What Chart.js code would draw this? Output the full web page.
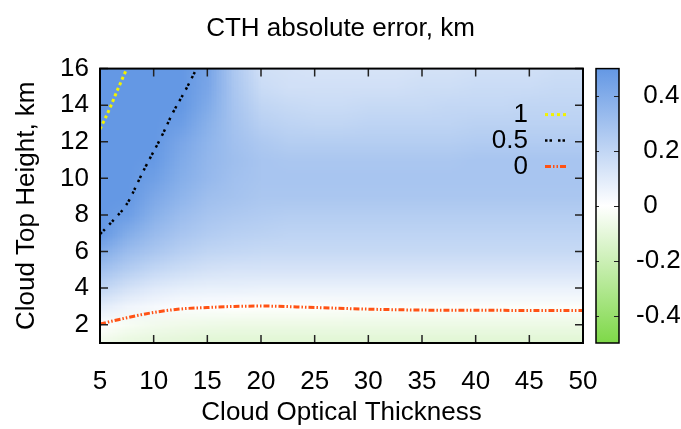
<!DOCTYPE html>
<html>
<head>
<meta charset="utf-8">
<script src="https://cdn.jsdelivr.net/npm/chart.js@4.4.1/dist/chart.umd.min.js"></script>
<style>
  html, body { margin: 0; padding: 0; background: #fff; }
  #wrap { width: 681px; height: 429px; }
</style>
</head>
<body>
<div id="wrap"><canvas id="cth" width="681" height="429"></canvas></div>
<script>
// grid nodes (cloud optical thickness, cloud top height in km)
const cotGrid = [5, 7.5, 10, 12.5, 15, 17.5, 20, 22.5, 25, 27.5, 30, 32.5, 35, 37.5, 40, 42.5, 45, 47.5, 50];
const cthGrid = [1, 2, 3, 4, 5, 6, 7, 8, 9, 10, 11, 12, 13, 14, 15, 16];

// CTH absolute error (km), one row per height
const err1  = [-0.06, -0.09, -0.1, -0.11, -0.12, -0.12, -0.12, -0.12, -0.12, -0.12, -0.12, -0.12, -0.12, -0.12, -0.12, -0.12, -0.12, -0.12, -0.12];
const err2  = [0, -0.03, -0.05, -0.06, -0.065, -0.07, -0.07, -0.07, -0.07, -0.07, -0.07, -0.07, -0.07, -0.07, -0.07, -0.07, -0.07, -0.07, -0.07];
const err3  = [0.09, 0.05, 0.03, 0.01, 0.005, 0, -0.005, -0.005, -0.005, -0.008, -0.01, -0.01, -0.01, -0.01, -0.01, -0.01, -0.01, -0.01, -0.01];
const err4  = [0.2, 0.14, 0.1, 0.08, 0.07, 0.07, 0.065, 0.065, 0.065, 0.065, 0.065, 0.065, 0.065, 0.065, 0.065, 0.065, 0.065, 0.065, 0.065];
const err5  = [0.3, 0.24, 0.19, 0.16, 0.14, 0.13, 0.13, 0.13, 0.13, 0.13, 0.13, 0.13, 0.13, 0.13, 0.13, 0.13, 0.13, 0.13, 0.13];
const err6  = [0.4, 0.32, 0.27, 0.23, 0.2, 0.19, 0.18, 0.18, 0.18, 0.18, 0.18, 0.18, 0.18, 0.18, 0.18, 0.18, 0.18, 0.18, 0.18];
const err7  = [0.5, 0.4, 0.33, 0.28, 0.25, 0.23, 0.22, 0.21, 0.21, 0.21, 0.21, 0.21, 0.21, 0.21, 0.21, 0.21, 0.21, 0.21, 0.21];
const err8  = [0.6, 0.47, 0.38, 0.32, 0.28, 0.26, 0.25, 0.24, 0.24, 0.24, 0.24, 0.24, 0.24, 0.24, 0.24, 0.24, 0.24, 0.24, 0.24];
const err9  = [0.68, 0.52, 0.42, 0.36, 0.31, 0.29, 0.27, 0.27, 0.27, 0.27, 0.27, 0.27, 0.27, 0.27, 0.27, 0.27, 0.27, 0.27, 0.27];
const err10 = [0.76, 0.58, 0.46, 0.39, 0.34, 0.3, 0.28, 0.28, 0.28, 0.28, 0.28, 0.28, 0.28, 0.28, 0.28, 0.28, 0.28, 0.28, 0.28];
const err11 = [0.82, 0.64, 0.49, 0.41, 0.35, 0.31, 0.28, 0.27, 0.27, 0.27, 0.27, 0.27, 0.27, 0.27, 0.28, 0.28, 0.28, 0.28, 0.28];
const err12 = [0.88, 0.7, 0.54, 0.43, 0.36, 0.3, 0.26, 0.24, 0.24, 0.24, 0.24, 0.24, 0.24, 0.24, 0.25, 0.25, 0.25, 0.25, 0.25];
const err13 = [0.92, 0.76, 0.6, 0.47, 0.38, 0.29, 0.23, 0.21, 0.2, 0.2, 0.21, 0.21, 0.21, 0.21, 0.22, 0.22, 0.22, 0.22, 0.22];
const err14 = [0.95, 0.82, 0.66, 0.52, 0.41, 0.28, 0.2, 0.18, 0.17, 0.17, 0.18, 0.18, 0.18, 0.19, 0.19, 0.19, 0.2, 0.2, 0.2];
const err15 = [1.0, 0.88, 0.72, 0.57, 0.43, 0.27, 0.17, 0.15, 0.15, 0.15, 0.15, 0.15, 0.16, 0.16, 0.17, 0.17, 0.17, 0.18, 0.18];
const err16 = [1.05, 0.95, 0.78, 0.62, 0.44, 0.26, 0.15, 0.14, 0.13, 0.13, 0.13, 0.13, 0.14, 0.14, 0.15, 0.15, 0.15, 0.16, 0.16];
const errorRows = [err1, err2, err3, err4, err5, err6, err7, err8, err9, err10, err11, err12, err13, err14, err15, err16];

// contour lines
const contourOneCot = [5, 5.5, 6, 6.7, 7.5];
const contourOneCth = [12.7, 13.3, 13.95, 14.93, 16];
const contourHalfCot = [5, 5.75, 6.5, 7.2, 7.8, 8.5, 9.3, 10.7, 11.8, 12.9, 14];
const contourHalfCth = [6.95, 7.4, 7.88, 8.35, 8.9, 9.75, 10.7, 12.25, 13.6, 14.75, 16];
const contourZeroCot = [5, 7.5, 10, 12.5, 15, 17.5, 20, 25, 30, 35, 40, 45, 50];
const contourZeroCth = [2.04, 2.38, 2.67, 2.86, 2.94, 3.0, 3.02, 2.94, 2.85, 2.8, 2.79, 2.78, 2.78];

const xTicks = [5, 10, 15, 20, 25, 30, 35, 40, 45, 50];
const yTicks = [2, 4, 6, 8, 10, 12, 14, 16];
const cbTicks = [-0.4, -0.2, 0, 0.2, 0.4];

const blueTop = [100, 152, 228];
const greenBottom = [126, 216, 72];

function paletteColor(v) {
  const t = Math.min(Math.abs(v) / 0.5, 1);
  const end = v >= 0 ? blueTop : greenBottom;
  return end.map(c => Math.round(255 + (c - 255) * t));
}

function pts(xs, ys) {
  return xs.map((x, i) => ({x: x, y: ys[i]}));
}

const heatmap = {
  id: 'heatmap',
  beforeDatasetsDraw(chart) {
    const {ctx, chartArea: a, scales: {x, y}} = chart;
    const img = document.createElement('canvas');
    img.width = cotGrid.length;
    img.height = cthGrid.length;
    const ic = img.getContext('2d');
    const pix = ic.createImageData(img.width, img.height);
    errorRows.forEach((row, j) => {
      const py = img.height - 1 - j;
      row.forEach((v, i) => {
        const c = paletteColor(v);
        const k = (py * img.width + i) * 4;
        pix.data[k] = c[0];
        pix.data[k + 1] = c[1];
        pix.data[k + 2] = c[2];
        pix.data[k + 3] = 255;
      });
    });
    ic.putImageData(pix, 0, 0);
    const dx = cotGrid[1] - cotGrid[0], dy = cthGrid[1] - cthGrid[0];
    const left = x.getPixelForValue(cotGrid[0] - dx / 2);
    const right = x.getPixelForValue(cotGrid[cotGrid.length - 1] + dx / 2);
    const top = y.getPixelForValue(cthGrid[cthGrid.length - 1] + dy / 2);
    const bottom = y.getPixelForValue(cthGrid[0] - dy / 2);
    ctx.save();
    ctx.beginPath();
    ctx.rect(a.left, a.top, a.width, a.height);
    ctx.clip();
    ctx.imageSmoothingEnabled = true;
    ctx.drawImage(img, left, top, right - left, bottom - top);
    ctx.restore();
  }
};

const frame = {
  id: 'frame',
  afterDraw(chart) {
    const {ctx, chartArea: a, scales: {x, y, cb}} = chart;
    ctx.save();
    // legend inside the plot, top right
    ctx.font = '26px "Liberation Sans", Arial, sans-serif';
    ctx.textAlign = 'right';
    ctx.textBaseline = 'middle';
    chart.data.datasets.forEach((ds, i) => {
      const ly = a.top + 46 + i * 26;
      ctx.fillStyle = '#000';
      ctx.fillText(ds.label, a.right - 55, ly);
      ctx.strokeStyle = ds.borderColor;
      ctx.lineWidth = ds.borderWidth;
      ctx.setLineDash(ds.borderDash);
      ctx.beginPath();
      ctx.moveTo(a.right - 38, ly);
      ctx.lineTo(a.right - 15, ly);
      ctx.stroke();
    });
    ctx.setLineDash([]);

    // inward ticks
    ctx.strokeStyle = '#222';
    ctx.lineWidth = 1.5;
    ctx.beginPath();
    x.ticks.forEach(t => {
      const px = x.getPixelForValue(t.value);
      ctx.moveTo(px, a.bottom); ctx.lineTo(px, a.bottom - 8);
      ctx.moveTo(px, a.top); ctx.lineTo(px, a.top + 8);
    });
    y.ticks.forEach(t => {
      const py = y.getPixelForValue(t.value);
      ctx.moveTo(a.left, py); ctx.lineTo(a.left + 8, py);
      ctx.moveTo(a.right, py); ctx.lineTo(a.right - 8, py);
    });
    ctx.stroke();
    ctx.strokeStyle = '#000';
    ctx.lineWidth = 2;
    ctx.strokeRect(a.left, a.top, a.width, a.height);

    // colour bar
    const cbL = a.right + 13, cbW = 23;
    const cTop = cb.getPixelForValue(0.5), cBot = cb.getPixelForValue(-0.5);
    const g = ctx.createLinearGradient(0, cTop, 0, cBot);
    g.addColorStop(0, 'rgb(' + blueTop.join(',') + ')');
    g.addColorStop(0.5, '#fff');
    g.addColorStop(1, 'rgb(' + greenBottom.join(',') + ')');
    ctx.fillStyle = g;
    ctx.fillRect(cbL, cTop, cbW, cBot - cTop);
    ctx.strokeStyle = '#222';
    ctx.lineWidth = 1;
    ctx.beginPath();
    cb.ticks.forEach(t => {
      const py = Math.round(cb.getPixelForValue(t.value)) + 0.5;
      ctx.moveTo(cbL, py); ctx.lineTo(cbL + 3, py);
      ctx.moveTo(cbL + cbW, py); ctx.lineTo(cbL + cbW - 5, py);
    });
    ctx.stroke();
    ctx.strokeStyle = '#000';
    ctx.lineWidth = 1.5;
    ctx.strokeRect(cbL, cTop, cbW, cBot - cTop);
    ctx.restore();
  }
};

Chart.defaults.font.family = '"Liberation Sans", Arial, sans-serif';
Chart.defaults.font.size = 26;
Chart.defaults.color = '#000';

new Chart(document.getElementById('cth'), {
  type: 'scatter',
  data: {
    datasets: [
      {
        label: '1',
        data: pts(contourOneCot, contourOneCth),
        showLine: true,
        borderColor: '#f2f200',
        borderWidth: 3,
        borderDash: [3, 3],
        pointRadius: 0,
        cubicInterpolationMode: 'monotone'
      },
      {
        label: '0.5',
        data: pts(contourHalfCot, contourHalfCth),
        showLine: true,
        borderColor: '#000',
        borderWidth: 2.5,
        borderDash: [2.5, 2, 2.5, 6],
        pointRadius: 0,
        tension: 0.4
      },
      {
        label: '0',
        data: pts(contourZeroCot, contourZeroCth),
        showLine: true,
        borderColor: '#ff5214',
        borderWidth: 3,
        borderDash: [6, 2, 1.5, 2, 1.5, 2],
        pointRadius: 0,
        cubicInterpolationMode: 'monotone'
      }
    ]
  },
  options: {
    responsive: false,
    animation: false,
    events: [],
    layout: { padding: 0 },
    plugins: {
      legend: { display: false },
      tooltip: { enabled: false },
      title: {
        display: true,
        text: 'CTH absolute error, km',
        font: { size: 26, weight: 'normal' },
        color: '#000',
        padding: { top: 7.4, bottom: 24.4 }
      }
    },
    scales: {
      x: {
        type: 'linear',
        min: 5,
        max: 50,
        afterBuildTicks: s => { s.ticks = xTicks.map(v => ({value: v})); },
        afterFit: s => { s.height = 86; },
        grid: { display: false, drawTicks: false },
        border: { display: false },
        ticks: { padding: 23.4, callback: v => String(v) },
        title: { display: true, text: 'Cloud Optical Thickness', padding: { top: 0, bottom: 0.4 } }
      },
      y: {
        type: 'linear',
        min: 1,
        max: 16,
        afterBuildTicks: s => { s.ticks = yTicks.map(v => ({value: v})); },
        afterFit: s => { s.width = 100; },
        grid: { display: false, drawTicks: false },
        border: { display: false },
        ticks: { padding: 11, callback: v => String(v) },
        title: { display: true, text: 'Cloud Top Height, km', padding: { top: 11.4, bottom: 0 } }
      },
      cb: {
        type: 'linear',
        position: 'right',
        min: -0.5,
        max: 0.5,
        afterBuildTicks: s => { s.ticks = cbTicks.map(v => ({value: v})); },
        afterFit: s => { s.width = 98; },
        grid: { display: false, drawTicks: false },
        border: { display: false },
        ticks: {
          padding: 53,
          callback: v => (v < 0 ? '' : ' ') + String(Math.round(v * 10) / 10)
        }
      }
    }
  },
  plugins: [heatmap, frame]
});
</script>
</body>
</html>
